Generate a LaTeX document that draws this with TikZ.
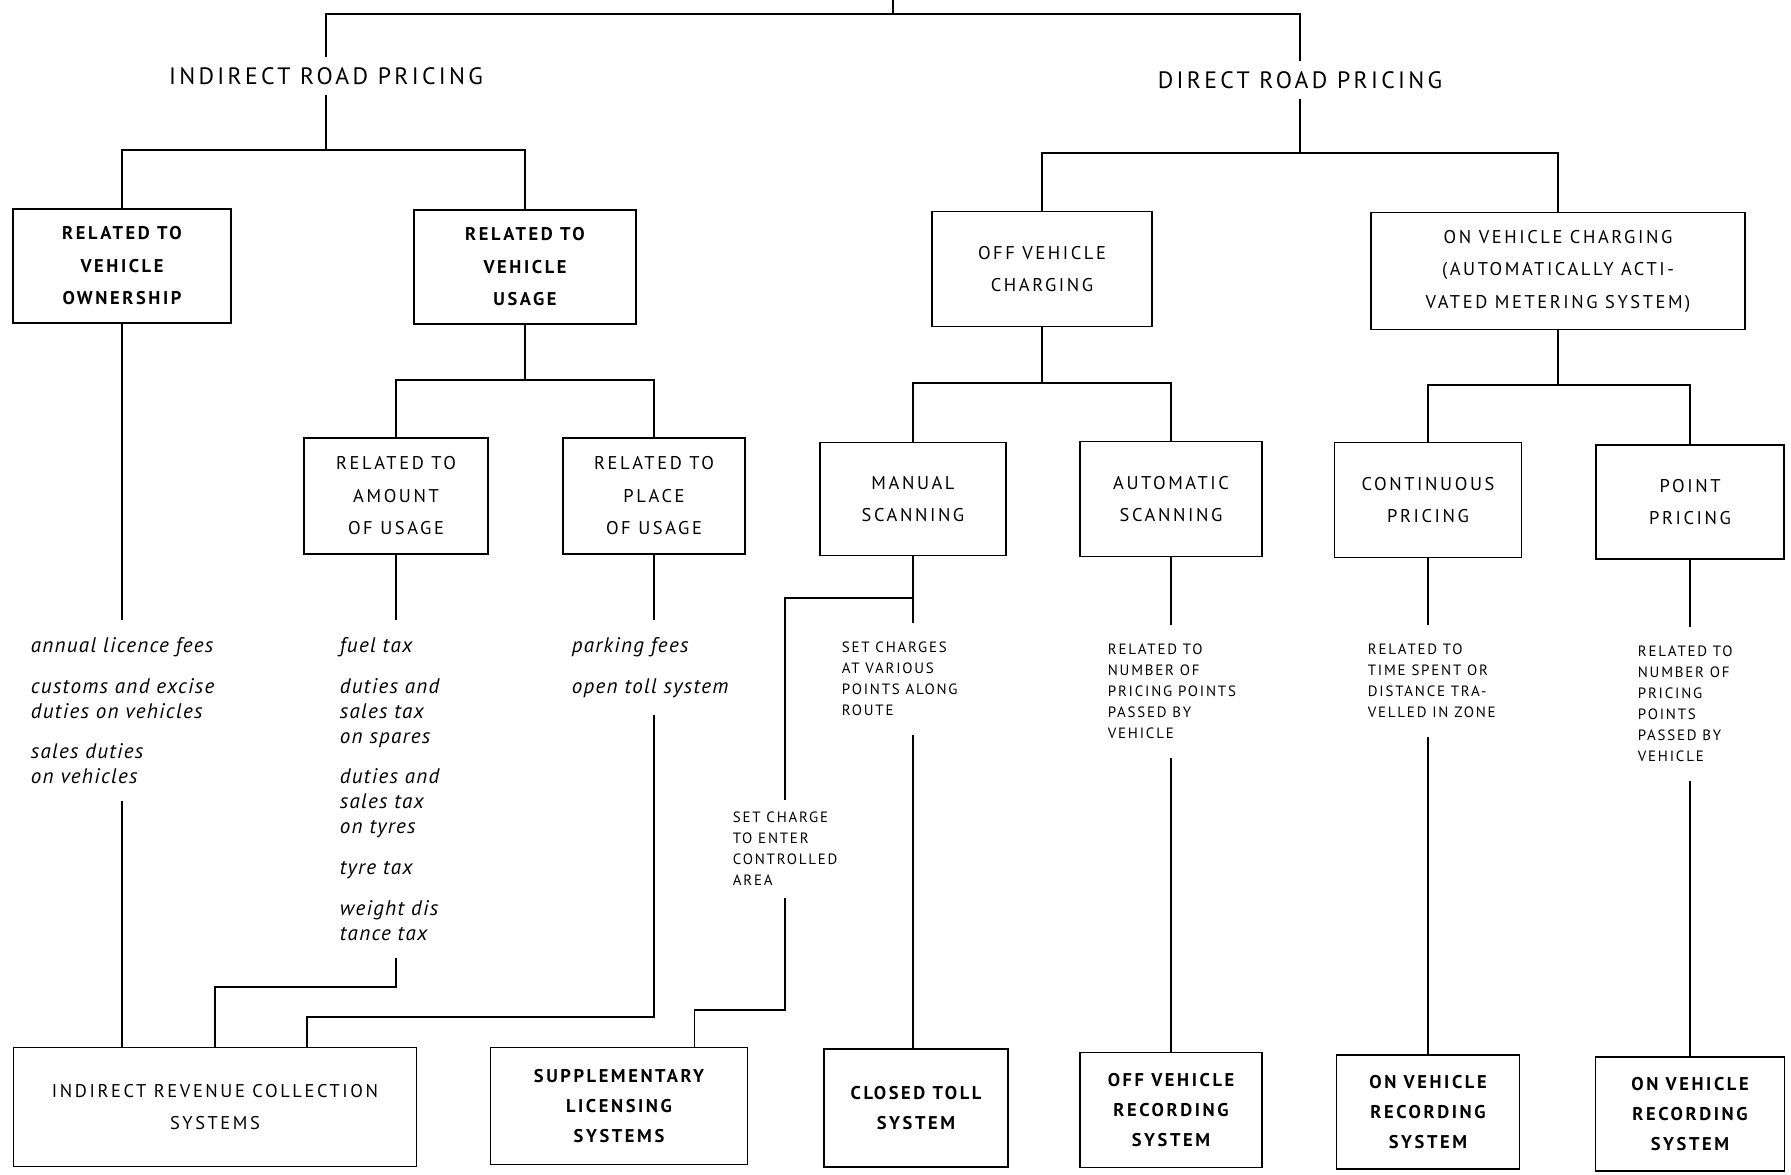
\documentclass[tikz,border=0pt]{standalone}
\usepackage{fontspec}
\setmainfont{PT Sans}
\newfontfamily\espace[LetterSpace=14]{PT Sans}
\newfontfamily\espacet[LetterSpace=14]{PT Sans}
\newfontfamily\espacep[LetterSpace=12]{PT Sans}
\newfontfamily\espacei[LetterSpace=6]{PT Sans}
\usepackage{tikz}
\tikzset{
boite/.style={
 draw=black, 
 line width=1pt, 
 align=center, 
 inner sep=2pt, 
 font=\espace\fontsize{10.5}{18.5}\selectfont
 },
boiteG/.style={
 boite, 
 font=\espace\bfseries\fontsize{10.5}{18.5}\selectfont
 },
bas/.style={
 boite, 
 font=\espace\bfseries\fontsize{10.5}{17}\selectfont
 },
titre/.style={
 inner sep=0.2cm, 
 font=\espacet\fontsize{13.5}{15}\selectfont
 },
liste/.style={
 anchor=north west, 
 inner xsep=0pt, 
 inner ysep=0.33cm, 
 align=left, 
 font=\espacei\itshape\fontsize{12}{14.2}\selectfont
 },
petit/.style={
 anchor=north west, 
 inner xsep=0pt, 
 inner ysep=0.36cm, 
 align=left, 
 font=\espacep\fontsize{8.5}{12}\selectfont
 }
}

\begin{document}
\begin{tikzpicture}[x=0.02cm,y=-0.02cm,line width=1pt]
\useasboundingbox (0,0) rectangle (1791,1175);
% titres
\coordinate (racine) at (893,0);
\coordinate (haut) at (893,14);
\node[titre] (indirect) at (326,76) {INDIRECT ROAD PRICING};
\node[titre] (direct) at (1300,80) {DIRECT ROAD PRICING};
\draw (racine) -- (haut);
\draw (indirect.north) |- (haut) -| (direct.north);
% premier niveau
\node[boiteG,minimum width=4.36cm,minimum height=2.28cm] (owner) at (122,266) {RELATED TO\\VEHICLE\\OWNERSHIP};
\node[boiteG,minimum width=4.44cm,minimum height=2.28cm] (usage) at (525,267) {RELATED TO\\VEHICLE\\USAGE};
\node[boite,minimum width=4.4cm,minimum height=2.3cm] (off) at (1042,269) {OFF VEHICLE\\CHARGING};
\node[boite,minimum width=7.48cm,minimum height=2.34cm] (on) at (1558,271) {ON VEHICLE CHARGING\\(AUTOMATICALLY ACTI-\\VATED METERING SYSTEM)};
\draw (owner.north) |- (indirect.south |- 0,150) -| (usage.north);
\draw (indirect.south) -- (indirect.south |- 0,150);
\draw (off.north) |- (direct.south |- 0,153) -| (on.north);
\draw (direct.south) -- (direct.south |- 0,153);
% second niveau
\node[boite,minimum width=3.68cm,minimum height=2.32cm] (amount) at (396,496) {RELATED TO\\AMOUNT\\OF USAGE};
\node[boite,minimum width=3.64cm,minimum height=2.32cm] (place) at (654,496) {RELATED TO\\PLACE\\OF USAGE};
\node[boite,minimum width=3.72cm,minimum height=2.26cm] (manual) at (913,499) {MANUAL\\SCANNING};
\node[boite,minimum width=3.64cm,minimum height=2.3cm] (auto) at (1171,499) {AUTOMATIC\\SCANNING};
\node[boite,minimum width=3.74cm,minimum height=2.3cm] (cont) at (1428,500) {CONTINUOUS\\PRICING};
\node[boite,minimum width=3.76cm,minimum height=2.28cm] (point) at (1690,502) {POINT\\PRICING};
\draw (amount.north) |- (usage.south |- 0,380) -| (place.north);
\draw (usage.south) -- (usage.south |- 0,380);
\draw (manual.north) |- (off.south |- 0,383) -| (auto.north);
\draw (off.south) -- (off.south |- 0,383);
\draw (cont.north) |- (on.south |- 0,385) -| (point.north);
\draw (on.south) -- (on.south |- 0,385);
% listes
\node[liste] (ownlist) at (30,620) {annual licence fees\\[9pt]customs and excise\\duties on vehicles\\[9pt]sales duties\\on vehicles};
\node[liste] (amtlist) at (339,620) {fuel tax\\[9pt]duties and\\sales tax\\on spares\\[9pt]duties and\\sales tax\\on tyres\\[9pt]tyre tax\\[9pt]weight dis\\tance tax};
\node[liste] (plclist) at (571,620) {parking fees\\[9pt]open toll system};
\node[petit] (manlist) at (841,623) {SET CHARGES\\AT VARIOUS\\POINTS ALONG\\ROUTE};
\node[petit,inner ysep=0.22cm] (setlist) at (732,800) {SET CHARGE\\TO ENTER\\CONTROLLED\\AREA};
\node[petit] (autlist) at (1107,625) {RELATED TO\\NUMBER OF\\PRICING POINTS\\PASSED BY\\VEHICLE};
\node[petit] (conlist) at (1367,625) {RELATED TO\\TIME SPENT OR\\DISTANCE TRA-\\VELLED IN ZONE};
\node[petit] (ptlist) at (1637,627) {RELATED TO\\NUMBER OF\\PRICING\\POINTS\\PASSED BY\\VEHICLE};
% systemes
\node[boite,minimum width=8.06cm,minimum height=2.38cm] (irc) at (215,1107) {INDIRECT REVENUE COLLECTION\\SYSTEMS};
\node[bas,minimum width=5.14cm,minimum height=2.34cm] (supp) at (619,1106) {SUPPLEMENTARY\\LICENSING\\SYSTEMS};
\node[bas,minimum width=3.68cm,minimum height=2.36cm] (closed) at (916,1108) {CLOSED TOLL\\SYSTEM};
\node[bas,minimum width=3.64cm,minimum height=2.3cm] (offrec) at (1171,1110) {OFF VEHICLE\\RECORDING\\SYSTEM};
\node[bas,minimum width=3.66cm,minimum height=2.28cm] (onrec) at (1428,1112) {ON VEHICLE\\RECORDING\\SYSTEM};
\node[bas,minimum width=3.78cm,minimum height=2.28cm] (onrecb) at (1690,1114) {ON VEHICLE\\RECORDING\\SYSTEM};
% liaisons
\draw (owner.south) -- (owner.south |- ownlist.north);
\draw (owner.south |- ownlist.south) -- (owner.south |- irc.north);
\draw (amount.south) -- (amount.south |- amtlist.north);
\draw (amount.south |- amtlist.south) -- (amount.south |- 0,987) -| (irc.north);
\draw (place.south) -- (place.south |- plclist.north);
\draw (place.south |- plclist.south) -- (place.south |- 0,1017) -| ([xshift=1.84cm]irc.north);
\draw (manual.south) -- (manual.south |- manlist.north);
\draw (manual.south |- 0,598) -| (setlist.north);
\draw (setlist.south) -- (setlist.south |- 0,1010) -| ([xshift=1.51cm]supp.north);
\draw (manual.south |- manlist.south) -- (manual.south |- closed.north);
\draw (auto.south) -- (auto.south |- autlist.north);
\draw (auto.south |- autlist.south) -- (offrec.north);
\draw (cont.south) -- (cont.south |- conlist.north);
\draw (cont.south |- conlist.south) -- (onrec.north);
\draw (point.south) -- (point.south |- ptlist.north);
\draw (point.south |- ptlist.south) -- (onrecb.north);
\end{tikzpicture}
\end{document}
